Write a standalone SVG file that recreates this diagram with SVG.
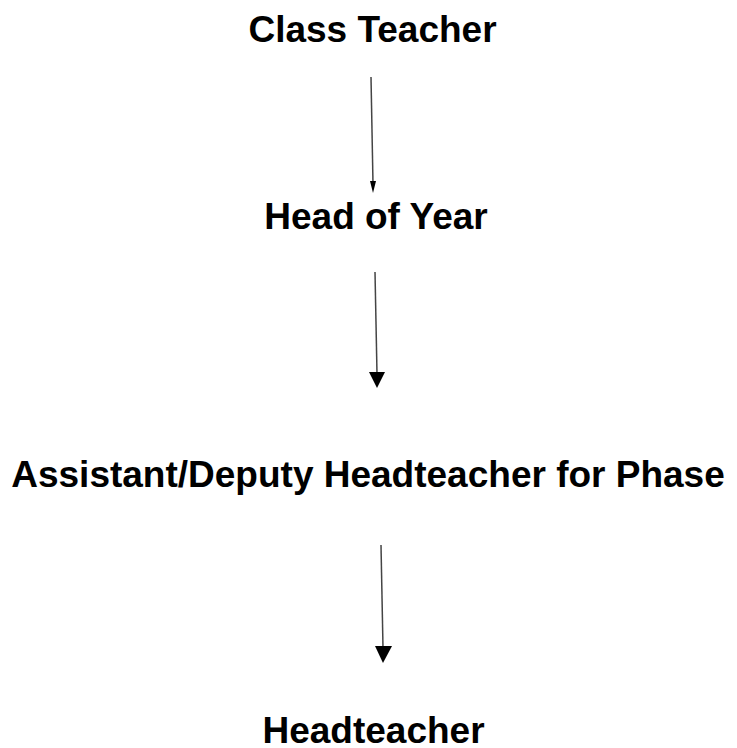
<svg xmlns="http://www.w3.org/2000/svg" width="737" height="748" viewBox="0 0 737 748">
<style>
.t{font-family:"Liberation Sans",Arial,sans-serif;font-weight:bold;font-size:37px;fill:#000;text-anchor:middle}
.c{stroke:#444;stroke-width:1.5;fill:none}
.h{fill:#000}
</style>
<rect width="737" height="748" fill="#fff"/>
<g id="connectors">
<line class="c" x1="371" y1="77" x2="373" y2="184"/>
<path class="h" d="M370,181 L376,181 L373,193 Z"/>
<line class="c" x1="375" y1="272" x2="377" y2="374"/>
<path class="h" d="M369,372 L385,372 L377,388 Z"/>
<line class="c" x1="381" y1="545" x2="383" y2="648"/>
<path class="h" d="M375,646 L392,646 L383,663 Z"/>
</g>
<g id="class-teacher"><text class="t" x="372.5" y="42">Class Teacher</text></g>
<g id="head-of-year"><text class="t" x="376" y="229">Head of Year</text></g>
<g id="assistant-deputy"><text class="t" x="368" y="487">Assistant/Deputy Headteacher for Phase</text></g>
<g id="headteacher"><text class="t" x="373.5" y="743">Headteacher</text></g>
</svg>
